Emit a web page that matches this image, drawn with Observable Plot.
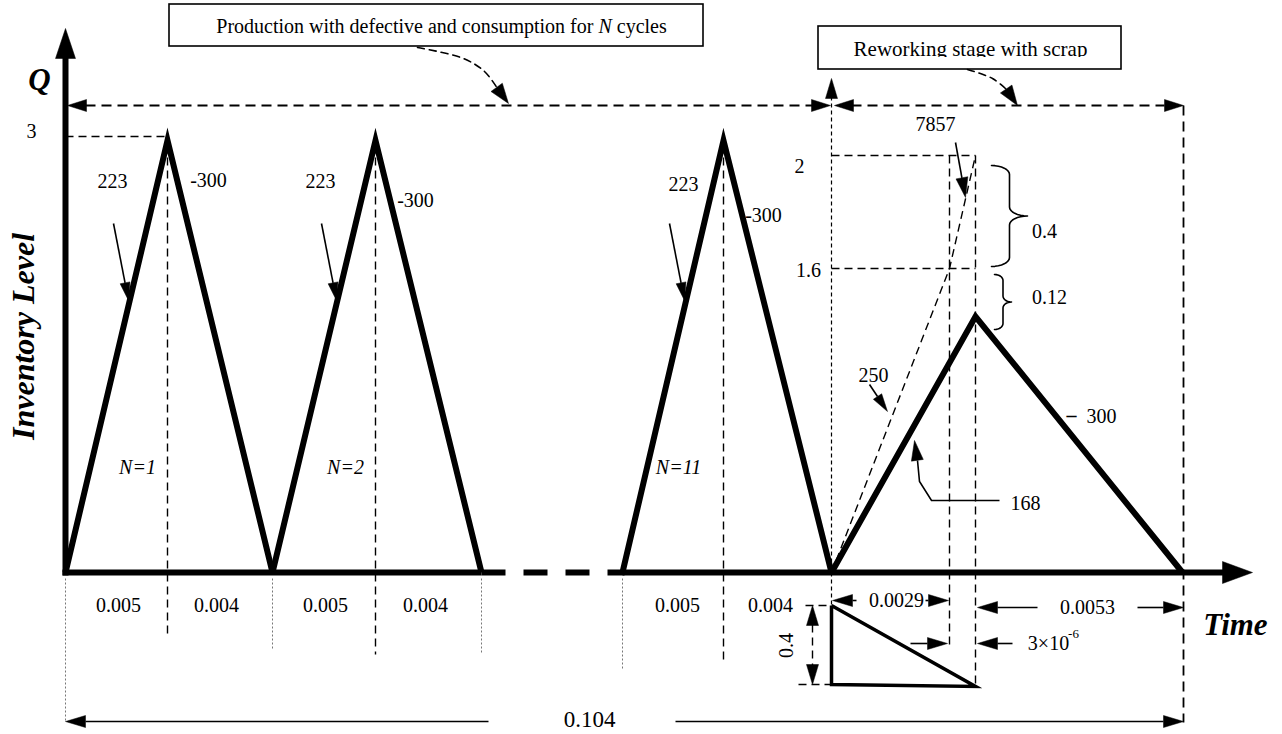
<!DOCTYPE html>
<html><head><meta charset="utf-8">
<script src="https://cdn.jsdelivr.net/npm/d3@7"></script>
<script src="https://cdn.jsdelivr.net/npm/@observablehq/plot@0.6"></script>
<style>html,body{margin:0;padding:0;background:#fff} svg{display:block}</style>
</head><body><div id="chart"></div>
<script>
const FONT = '"Liberation Serif","Times New Roman",Times,serif';

// ---- schematic layout of the inventory diagram (time axis position, vertical position) ----
const baseLevel = 572;            // zero inventory
const qLevel = 140;               // Q peak of each production cycle
const cycleStart = [65, 272, 622];
const cyclePeak  = [167, 375, 723];
const cycleEnd   = [272, 481, 831];
const cycleNames = ["N=1", "N=2", "N=11"];
const cycleNameX = [137, 345, 678];
const prodRate = ["223", "223", "223"];
const consRate = ["-300", "-300", "-300"];
const phaseLabels = ["0.005", "0.004", "0.005", "0.004", "0.005", "0.004"];
const phaseLabelX = [118, 216, 325, 425, 677, 770];

// reworking stage
const reworkStart = 831, reworkPeakT = 975, reworkEnd = 1182;
const reworkPeakLevel = 316;
const level2 = 155, level16 = 268;   // levels "2" and "1.6"
const t0029 = 949;                   // end of 0.0029 period
const horizonEnd = 1183;

// ---------- helpers ----------
function rows(lines) { return lines.flatMap((pts, i) => pts.map(([x, y]) => ({x, y, id: i}))); }
function head(tip, from, len = 20, hw = 6) {
  const dx = tip[0] - from[0], dy = tip[1] - from[1], n = Math.hypot(dx, dy);
  const ux = dx / n, uy = dy / n;
  const bx = tip[0] - ux * len, by = tip[1] - uy * len;
  return [tip, [bx - uy * hw, by + ux * hw], [bx + uy * hw, by - ux * hw], tip];
}
function brace(x0, yTop, yBot, r, rv) {
  const ym = (yTop + yBot) / 2, top = [], N = 8;
  for (let i = 0; i <= N; i++) { const a = i / N * Math.PI / 2; top.push([x0 + r * Math.sin(a), yTop + rv - rv * Math.cos(a)]); }
  for (let i = 0; i <= N; i++) { const a = i / N * Math.PI / 2; top.push([x0 + 2 * r - r * Math.cos(a), ym - rv + rv * Math.sin(a)]); }
  const bottom = top.slice().reverse().map(([x, y]) => [x, 2 * ym - y]);
  return top.concat(bottom.slice(1));
}
const L = (pts, o) => Plot.line(rows(pts), {x: "x", y: "y", z: "id", curve: "linear",
  strokeLinecap: "butt", strokeLinejoin: "miter", strokeMiterlimit: 10, ...o});

// ---------- geometry built from the layout arrays ----------
const thick = [
  ...cycleStart.map((s, i) => [[s, baseLevel], [cyclePeak[i], qLevel], [cycleEnd[i], baseLevel]]),
  [[reworkStart, baseLevel], [reworkPeakT, reworkPeakLevel], [reworkEnd, baseLevel]],
  [[cycleStart[0] - 3, baseLevel], [cycleEnd[1], baseLevel]],
  [[cycleStart[2], baseLevel], [1225, baseLevel]],
  [[cycleStart[0], baseLevel + 3], [cycleStart[0], 55]]
];
const gapDash = [[[cycleEnd[1], baseLevel], [cycleStart[2] + 2, baseLevel]]];
const smallTri = [[[reworkStart, 605], [reworkStart, 684], [reworkPeakT, 686], [reworkStart, 605]]];

const dashed = [
  [[cycleStart[0], 136], [cyclePeak[0] + 1, 136]],
  [[cyclePeak[0], qLevel + 4], [cyclePeak[0], 637]],
  [[cyclePeak[1], qLevel + 4], [cyclePeak[1], 654]],
  [[cyclePeak[2], qLevel + 4], [cyclePeak[2], 660]],
  [[t0029, level2], [t0029, 645]],
  [[reworkPeakT, level2], [reworkPeakT, 686]],
  [[reworkStart, level2], [reworkPeakT, level2]],
  [[reworkStart, level16], [reworkPeakT, level16]],
  [[reworkStart, baseLevel], [t0029, level16], [reworkPeakT, level2]],
  [[805, 605], [reworkStart, 605]],
  [[798, 684], [reworkStart, 684]],
  [[812, 624], [812, 665]]
];
const dashedLong = [
  [[85, 105], [812, 105]],
  [[851, 105], [1164, 105]],
  [[horizonEnd, 105], [horizonEnd, 722]]
];
const fineDashed = [[[reworkStart, 96], [reworkStart, 605]]];
const dotted = [
  [[cycleStart[0], 578], [cycleStart[0], 721]],
  [[cycleEnd[0], 578], [cycleEnd[0], 650]],
  [[cycleEnd[1], 578], [cycleEnd[1], 652]],
  [[cycleStart[2], 578], [cycleStart[2], 670]]
];
const arrowsSpec = [
  ...cyclePeak.map(p => ({from: [p - 54, 223], to: [p - 39, 300], len: 18, hw: 5})),
  {from: [955, 142], to: [965, 197]},
  {from: [869, 384], to: [887, 411], len: 18, hw: 5},
  {from: [488, 721], to: [cycleStart[0], 721]},
  {from: [675, 721], to: [horizonEnd, 721]},
  {from: [856, 600], to: [reworkStart + 1, 600]},
  {from: [925, 600], to: [t0029 - 1, 600]},
  {from: [910, 643], to: [t0029 - 2, 643]},
  {from: [1012, 643], to: [reworkPeakT + 2, 643]},
  {from: [1037, 607], to: [reworkPeakT + 2, 607]},
  {from: [1137, 607], to: [horizonEnd, 607]}
];
const solidThin = [
  ...arrowsSpec.map(a => { const h = head(a.to, a.from, a.len || 20, a.hw || 6); return [a.from, [(h[1][0] + h[2][0]) / 2, (h[1][1] + h[2][1]) / 2]]; }),
  [[999, 500], [931, 500], [919, 481], [917, 460]]
];
const heads = [
  ...arrowsSpec.map(a => head(a.to, a.from, a.len || 20, a.hw || 6)),
  head([914, 440], [917, 461], 20, 6),
  head([67, 105], [100, 105], 19, 6),
  head([830, 105], [800, 105], 19, 6),
  head([834, 105], [870, 105], 19, 6),
  head([horizonEnd, 105], [1150, 105], 19, 6),
  head([reworkStart, 78], [reworkStart, 120], 20, 6),
  head([812, 605], [812, 640], 20, 6),
  head([812, 684], [812, 650], 20, 6),
  head([cycleStart[0], 28], [cycleStart[0], 80], 30, 10),
  head([1252, baseLevel], [1200, baseLevel], 30, 11),
  head([508, 103], [497, 88], 20, 7),
  head([1017, 105], [1006, 89], 20, 7)
];
const curves = [
  [[417, 47], [463, 58], [484, 71], [497, 88]],
  [[967, 69], [992, 78], [1006, 89]]
];
const braces = [brace(991, 165, 266, 18, 9), brace(994, 274, 329, 8.5, 6)];

const boxes = [
  {x1: 169, x2: 703, y1: 4, y2: 46},
  {x1: 818, x2: 1121, y1: 26, y2: 69}
];

const regText = [
  {x: 31, y: 131, t: "3"},
  ...cyclePeak.map((p, i) => ({x: p - 55 + (i === 2 ? 15 : 0), y: i === 2 ? 184 : 181, t: prodRate[i]})),
  {x: 208, y: 180, t: consRate[0]}, {x: 415, y: 200, t: consRate[1]}, {x: 763, y: 215, t: consRate[2]},
  ...phaseLabels.map((t, i) => ({x: phaseLabelX[i], y: 605, t})),
  {x: 799, y: 166, t: "2"}, {x: 808, y: 270, t: "1.6"},
  {x: 935, y: 124, t: "7857"},
  {x: 1044, y: 231, t: "0.4"}, {x: 1049, y: 297, t: "0.12"},
  {x: 873, y: 375, t: "250"},
  {x: 1101, y: 416, t: "300"},
  {x: 1025, y: 503, t: "168"},
  {x: 896, y: 600, t: "0.0029"},
  {x: 1087, y: 607, t: "0.0053"},
  {x: 1048, y: 643, t: "3×10"},
  {x: 1073, y: 633, t: "-6", s: 13},
  {x: 589, y: 719, t: "0.104", s: 23},
  {x: 970, y: 49, t: "Reworking stage with scrap", s: 21}
];
const italicText = cycleNames.map((t, i) => ({x: cycleNameX[i], y: 467, t}));

// production box caption: mixed roman / italic N, centred in its box
const cap1 = "Production with defective and consumption for", capN = "N", cap3 = "cycles";
const ctx = document.createElement("canvas").getContext("2d");
ctx.font = `20px ${FONT}`;
const wSpace = ctx.measureText(" ").width;
const w1 = ctx.measureText(cap1).width, w3 = ctx.measureText(cap3).width;
ctx.font = `italic 20px ${FONT}`;
const wN = ctx.measureText(capN).width;
const total = w1 + wSpace + wN + wSpace + w3;
const capStart = 441 - total / 2;
const capRoman = [{x: capStart, y: 26, t: cap1}, {x: capStart + w1 + wSpace + wN + wSpace, y: 26, t: cap3}];
const capItalic = [{x: capStart + w1 + wSpace, y: 26, t: capN}];

const chart = Plot.plot({
  width: 1282, height: 734, margin: 0,
  x: {domain: [0, 1282], range: [0, 1282], axis: null},
  y: {domain: [734, 0], range: [734, 0], axis: null},
  style: {background: "white"},
  marks: [
    Plot.rect(boxes, {x1: "x1", x2: "x2", y1: "y1", y2: "y2", fill: "white", stroke: "black", strokeWidth: 1.6}),
    L(dotted, {stroke: "#777", strokeWidth: 1, strokeDasharray: "2,2"}),
    L(dashed, {stroke: "black", strokeWidth: 1.4, strokeDasharray: "8,5"}),
    L(dashedLong, {stroke: "black", strokeWidth: 1.8, strokeDasharray: "10,6"}),
    L(fineDashed, {stroke: "black", strokeWidth: 1.2, strokeDasharray: "4,3"}),
    Plot.line(rows(curves), {x: "x", y: "y", z: "id", curve: "catmull-rom", stroke: "black", strokeWidth: 1.6, strokeDasharray: "7,5"}),
    L(thick, {stroke: "black", strokeWidth: 6}),
    L(gapDash, {stroke: "black", strokeWidth: 6, strokeDasharray: "24,18"}),
    L(smallTri, {stroke: "black", strokeWidth: 3.5}),
    L(solidThin, {stroke: "black", strokeWidth: 1.6}),
    Plot.line(rows(braces), {x: "x", y: "y", z: "id", curve: "linear", stroke: "black", strokeWidth: 1.6}),
    L(heads, {fill: "black", stroke: "black", strokeWidth: 0.5}),
    Plot.text(regText, {x: "x", y: "y", text: "t", fontSize: d => d.s || 20, fontFamily: FONT, lineAnchor: "middle", fill: "black"}),
    Plot.text([{x: 1071, y: 415, t: "–"}], {x: "x", y: "y", text: "t", fontSize: 20, fontWeight: "bold", fontFamily: FONT, lineAnchor: "middle"}),
    Plot.rect([boxes[1]], {x1: d => d.x1 + 1.5, x2: d => d.x2 - 1.5, y1: () => 57, y2: d => d.y2 - 1.2, fill: "white"}),
    Plot.text([{x: 786, y: 645, t: "0.4"}], {x: "x", y: "y", text: "t", rotate: -90, fontSize: 20, fontFamily: FONT, lineAnchor: "middle"}),
    Plot.text(italicText, {x: "x", y: "y", text: "t", fontSize: 20, fontStyle: "italic", fontFamily: FONT, lineAnchor: "middle"}),
    Plot.text(capRoman, {x: "x", y: "y", text: "t", fontSize: 20, fontFamily: FONT, textAnchor: "start", lineAnchor: "middle"}),
    Plot.text(capItalic, {x: "x", y: "y", text: "t", fontSize: 20, fontStyle: "italic", fontFamily: FONT, textAnchor: "start", lineAnchor: "middle"}),
    Plot.text([{x: 39, y: 80, t: "Q"}, {x: 1235, y: 625, t: "Time"}], {x: "x", y: "y", text: "t", fontSize: 31, fontStyle: "italic", fontWeight: "bold", fontFamily: FONT, lineAnchor: "middle"}),
    Plot.text([{x: 23, y: 336, t: "Inventory Level"}], {x: "x", y: "y", text: "t", rotate: -90, fontSize: 32, fontStyle: "italic", fontWeight: "bold", fontFamily: FONT, lineAnchor: "middle"})
  ]
});
document.getElementById("chart").appendChild(chart);
</script>
</body></html>
